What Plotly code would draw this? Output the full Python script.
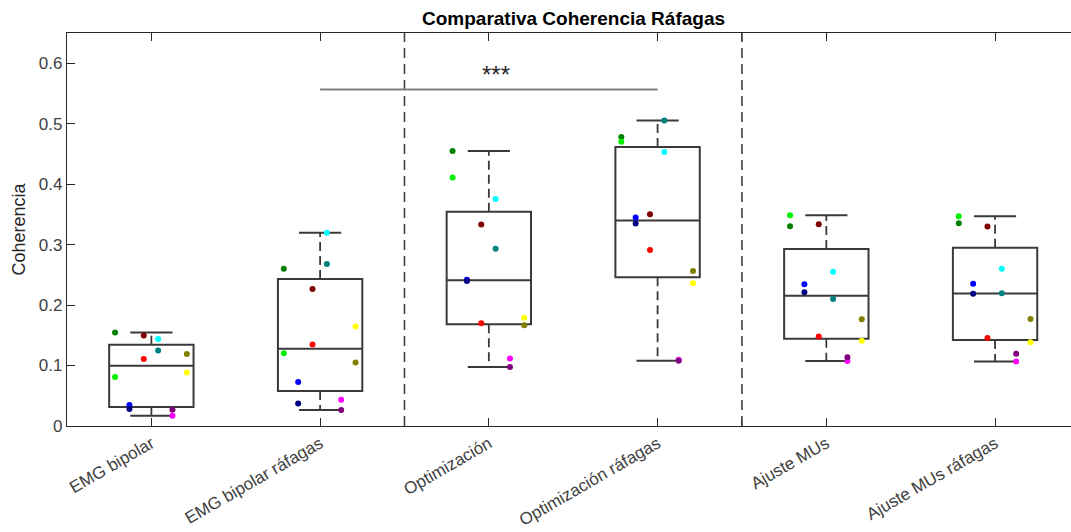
import numpy as np
import plotly.graph_objects as go

# Conditions shown on the x axis
categories = ["EMG bipolar", "EMG bipolar ráfagas", "Optimización",
              "Optimización ráfagas", "Ajuste MUs", "Ajuste MUs ráfagas"]

# One colour per subject, same order as the values in each condition list
subject_colors = ["#008000", "#00f000", "#0000ff", "#000080", "#800000", "#ff0000",
                  "#00ffff", "#008080", "#ff00ff", "#800080", "#ffff00", "#808000"]

# Coherence per subject for each condition
emg_bipolar = [0.1545, 0.081, 0.0346, 0.028, 0.1495, 0.111,
               0.144, 0.125, 0.017, 0.027, 0.0885, 0.119]
emg_bipolar_rafagas = [0.260, 0.1205, 0.0726, 0.0373, 0.2266, 0.1347,
                       0.3195, 0.268, 0.0434, 0.0264, 0.1644, 0.105]
optimizacion = [0.4548, 0.411, 0.242, 0.240, 0.3333, 0.170,
                0.3756, 0.293, 0.1116, 0.0974, 0.179, 0.1667]
optimizacion_rafagas = [0.478, 0.470, 0.345, 0.335, 0.3503, 0.291,
                        0.453, 0.5054, 0.1094, 0.108, 0.236, 0.2563]
ajuste_mus = [0.3305, 0.3487, 0.2343, 0.2211, 0.3338, 0.1479,
              0.2551, 0.210, 0.1073, 0.1139, 0.1408, 0.1766]
ajuste_mus_rafagas = [0.3355, 0.347, 0.2353, 0.2188, 0.330, 0.1457,
                      0.260, 0.2195, 0.1066, 0.1193, 0.1386, 0.177]

groups = [emg_bipolar, emg_bipolar_rafagas, optimizacion,
          optimizacion_rafagas, ajuste_mus, ajuste_mus_rafagas]

# Horizontal spread of each subject's dot inside its box
subject_offsets = [-0.215, -0.215, -0.13, -0.13, -0.045, -0.045,
                   0.04, 0.04, 0.125, 0.125, 0.21, 0.21]

BOX_W = 0.5
CAP_W = 0.25
EDGE = "#3a3a3a"
FONT = "Liberation Sans, Arial, sans-serif"

fig = go.Figure()

for i, vals in enumerate(groups):
    pos = i + 1
    v = np.asarray(vals, dtype=float)
    q1, med, q3 = np.percentile(v, [25, 50, 75], method="hazen")
    iqr = q3 - q1
    lo = v[v >= q1 - 1.5 * iqr].min()
    hi = v[v <= q3 + 1.5 * iqr].max()

    # box body and median
    fig.add_trace(go.Box(
        x=[pos], q1=[q1], median=[med], q3=[q3], lowerfence=[q1], upperfence=[q3],
        width=BOX_W, whiskerwidth=0, fillcolor="rgba(0,0,0,0)",
        line=dict(color=EDGE, width=2), boxpoints=False, showlegend=False,
        hoverinfo="skip"))

    # dashed whiskers
    fig.add_trace(go.Scatter(
        x=[pos, pos, None, pos, pos], y=[q3, hi, None, q1, lo], mode="lines",
        line=dict(color=EDGE, width=1.8, dash="9px,5px"),
        showlegend=False, hoverinfo="skip"))

    # whisker caps
    fig.add_trace(go.Scatter(
        x=[pos - CAP_W / 2, pos + CAP_W / 2, None, pos - CAP_W / 2, pos + CAP_W / 2],
        y=[hi, hi, None, lo, lo], mode="lines",
        line=dict(color=EDGE, width=2), showlegend=False, hoverinfo="skip"))

    # subject dots
    fig.add_trace(go.Scatter(
        x=[pos + o for o in subject_offsets], y=vals, mode="markers",
        marker=dict(color=subject_colors, size=6, line=dict(width=0)),
        showlegend=False, hoverinfo="skip"))

# group separators
for xs in (2.5, 4.5):
    fig.add_shape(type="line", xref="x", yref="paper", x0=xs, x1=xs, y0=0, y1=1,
                  line=dict(color="#404040", width=1.6, dash="10px,6px"))

# significance bracket between conditions 2 and 4
fig.add_shape(type="line", xref="x", yref="y", x0=2, x1=4, y0=0.5565, y1=0.5565,
              line=dict(color="#7f7f7f", width=2))
fig.add_annotation(x=3.04, y=0.582, xref="x", yref="y", text="***", showarrow=False,
                   font=dict(family=FONT, size=24, color="#262626"))

fig.update_layout(
    width=1071, height=532,
    margin=dict(l=67, r=0, t=33, b=106),
    paper_bgcolor="white", plot_bgcolor="white",
    font=dict(family=FONT, size=17, color="#404040"),
    title=dict(text="<b>Comparativa Coherencia Ráfagas</b>", xref="container",
               x=0.5355, xanchor="center", yref="container", y=1 - 18 / 532,
               yanchor="middle", font=dict(family=FONT, size=19, color="#000000")),
    xaxis=dict(range=[0.5, 6.45], tickmode="array",
               tickvals=[1, 2, 2.5, 3, 4, 4.5, 5, 6],
               ticktext=[categories[0], categories[1], "", categories[2],
                         categories[3], "", categories[4], categories[5]],
               tickangle=-30, ticks="inside", ticklen=8, tickcolor="#262626",
               showline=True, linecolor="#262626", linewidth=1.3, mirror="ticks",
               showgrid=False, zeroline=False,
               tickfont=dict(family=FONT, size=17, color="#404040")),
    yaxis=dict(range=[0, 0.65], tickmode="array",
               tickvals=[0, 0.1, 0.2, 0.3, 0.4, 0.5, 0.6],
               ticktext=["0", "0.1", "0.2", "0.3", "0.4", "0.5", "0.6"],
               ticks="inside", ticklen=8, tickcolor="#262626",
               showline=True, linecolor="#262626", linewidth=1.3, mirror=False,
               showgrid=False, zeroline=False,
               tickfont=dict(family=FONT, size=17, color="#404040"),
               title=dict(text="Coherencia", standoff=8,
                          font=dict(family=FONT, size=18, color="#262626"))),
)

fig.write_html("out.html")
